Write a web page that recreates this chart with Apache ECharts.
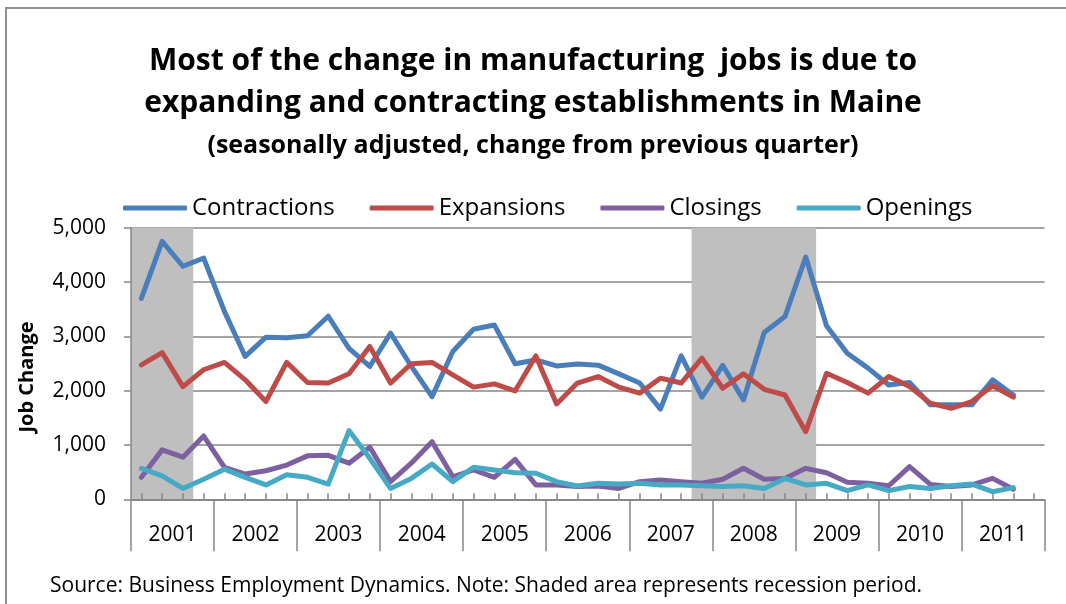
<!DOCTYPE html>
<html>
<head>
<meta charset="utf-8">
<script src="https://cdn.jsdelivr.net/npm/echarts@6/dist/echarts.min.js"></script>
<style>
  html, body { margin: 0; padding: 0; background: #fff; }
  #chart { width: 1066px; height: 604px; }
</style>
</head>
<body>
<div id="chart"></div>
<script>
// Maine manufacturing job flows, quarterly, seasonally adjusted
const years = ['2001','2002','2003','2004','2005','2006','2007','2008','2009','2010','2011'];
const quarterNames = ['Q1','Q2','Q3','Q4'];
const quarters = years.flatMap(y => quarterNames.map(q => y + q));

const contractions = [3700,4750,4290,4440,3460,2630,2985,2975,3010,3370,2780,2445,3060,2450,1890,2720,3130,3210,2495,2565,2455,2490,2470,2310,2140,1660,2640,1880,2465,1830,3070,3365,4460,3195,2690,2415,2105,2150,1740,1740,1740,2200,1920];
const expansions   = [2475,2700,2075,2385,2520,2200,1800,2520,2150,2140,2310,2815,2140,2495,2520,2290,2065,2125,1995,2640,1755,2140,2260,2065,1955,2230,2140,2600,2045,2310,2025,1920,1245,2320,2150,1955,2260,2075,1770,1675,1800,2090,1880];
const closings     = [405,910,775,1165,590,465,525,630,800,810,665,960,325,665,1060,415,540,405,735,265,265,235,245,200,325,355,325,295,370,570,370,385,570,490,315,295,250,600,275,235,265,385,185];
const openings     = [570,430,200,370,555,405,265,450,405,280,1265,755,200,385,650,325,590,540,490,480,325,245,295,280,295,265,265,250,235,250,200,385,265,295,160,265,160,235,200,250,280,140,215];

// Quarters shaded as recession
const recessionQuarters = ['2001Q1','2001Q2','2001Q3','2007Q4','2008Q1','2008Q2','2008Q3','2008Q4','2009Q1'];

const yTicks = [0, 1000, 2000, 3000, 4000, 5000];
const yMax = yTicks[yTicks.length - 1];

const FONT = 'Open Sans';
const AXIS_GRAY = '#868686';
const SHADE = '#bfbfbf';

// Group consecutive recession quarters into [firstIndex, lastIndex] spans
const recessionSpans = [];
quarters.forEach((q, i) => {
  if (!recessionQuarters.includes(q)) return;
  const last = recessionSpans[recessionSpans.length - 1];
  if (last && last[1] === i - 1) last[1] = i;
  else recessionSpans.push([i, i]);
});

const chart = echarts.init(document.getElementById('chart'));

function lineSeries(name, data, color) {
  return {
    name: name,
    type: 'line',
    data: data,
    xAxisIndex: 0,
    yAxisIndex: 0,
    symbol: 'none',
    z: 3,
    lineStyle: { width: 5, color: color, cap: 'round', join: 'round' },
    itemStyle: { color: color },
    emphasis: { disabled: true }
  };
}

chart.setOption({
  animation: false,
  backgroundColor: '#fff',
  title: [
    {
      text: 'Most of the change in manufacturing  jobs is due to\nexpanding and contracting establishments in Maine',
      left: 'center',
      top: 40,
      padding: 0,
      textStyle: { fontFamily: FONT, fontWeight: 'bold', fontSize: 30, lineHeight: 42, color: '#000' }
    },
    {
      text: '(seasonally adjusted, change from previous quarter)',
      left: 'center',
      top: 133,
      padding: 0,
      textStyle: { fontFamily: FONT, fontWeight: 'bold', fontSize: 25, color: '#000' }
    }
  ],
  legend: {
    data: ['Contractions', 'Expansions', 'Closings', 'Openings'],
    left: 123,
    top: 196,
    padding: 0,
    icon: 'roundRect',
    itemWidth: 64,
    itemHeight: 5,
    itemGap: 35,
    textStyle: { fontFamily: FONT, fontSize: 24, color: '#000' },
    selectedMode: false
  },
  grid: { left: 131, right: 21.5, top: 227.7, bottom: 104.7 },
  xAxis: [
    {
      type: 'category',
      data: quarters,
      boundaryGap: true,
      z: 4,
      axisLine: { show: true, lineStyle: { color: AXIS_GRAY, width: 1.5 } },
      axisTick: { show: true, inside: true, length: 6, alignWithLabel: true, interval: 0, lineStyle: { color: AXIS_GRAY, width: 1.5 } },
      axisLabel: { show: false },
      splitLine: { show: false }
    },
    {
      type: 'category',
      data: years,
      position: 'bottom',
      boundaryGap: true,
      z: 4,
      axisLine: { show: true, lineStyle: { color: AXIS_GRAY, width: 1.5 } },
      axisTick: { show: true, inside: false, length: 52, interval: 0, lineStyle: { color: AXIS_GRAY, width: 1.5 } },
      axisLabel: { show: true, interval: 0, margin: 25, fontFamily: FONT, fontSize: 21, color: '#000' },
      splitLine: { show: false }
    }
  ],
  yAxis: [
    {
      type: 'value',
      min: yTicks[0],
      max: yMax,
      interval: 1000,
      axisLine: { show: false },
      axisTick: { show: false },
      axisLabel: { show: false },
      splitLine: { show: true, lineStyle: { color: AXIS_GRAY, width: 1.5 } }
    },
    {
      type: 'value',
      min: yTicks[0],
      max: yMax,
      interval: 1000,
      position: 'left',
      z: 4,
      axisLine: { show: true, lineStyle: { color: AXIS_GRAY, width: 1.5 } },
      axisTick: { show: true, inside: false, length: 7, lineStyle: { color: AXIS_GRAY, width: 1.5 } },
      axisLabel: {
        margin: 25,
        fontFamily: FONT,
        fontSize: 21,
        color: '#000',
        formatter: v => v.toLocaleString('en-US')
      },
      splitLine: { show: false }
    }
  ],
  series: [
    {
      name: 'Recession',
      type: 'custom',
      xAxisIndex: 0,
      yAxisIndex: 0,
      data: recessionSpans,
      encode: { x: [0, 1] },
      z: 1,
      silent: true,
      renderItem: (params, api) => {
        const band = api.size([1, 0])[0];
        const start = api.coord([api.value(0), yMax]);
        const end = api.coord([api.value(1), 0]);
        return {
          type: 'rect',
          shape: {
            x: start[0] - band / 2,
            y: start[1],
            width: end[0] - start[0] + band,
            height: end[1] - start[1]
          },
          style: { fill: SHADE }
        };
      }
    },
    lineSeries('Contractions', contractions, '#4a7ebb'),
    lineSeries('Expansions', expansions, '#be4b48'),
    lineSeries('Closings', closings, '#7d60a0'),
    lineSeries('Openings', openings, '#46aac5')
  ],
  graphic: [
    {
      type: 'rect',
      silent: true,
      z: -1,
      shape: { x: 6, y: 8, width: 1100, height: 700 },
      style: { fill: null, stroke: '#8e8e8e', lineWidth: 2 }
    },
    {
      type: 'text',
      x: 27,
      y: 377,
      rotation: Math.PI / 2,
      style: {
        text: 'Job Change',
        font: 'bold 20px "Open Sans"',
        fill: '#000',
        align: 'center',
        verticalAlign: 'middle'
      }
    },
    {
      type: 'text',
      x: 50,
      y: 586,
      style: {
        text: 'Source: Business Employment Dynamics. Note: Shaded area represents recession period.',
        font: '21px "Open Sans"',
        fill: '#000',
        align: 'left',
        verticalAlign: 'middle'
      }
    }
  ]
});
</script>
</body>
</html>
